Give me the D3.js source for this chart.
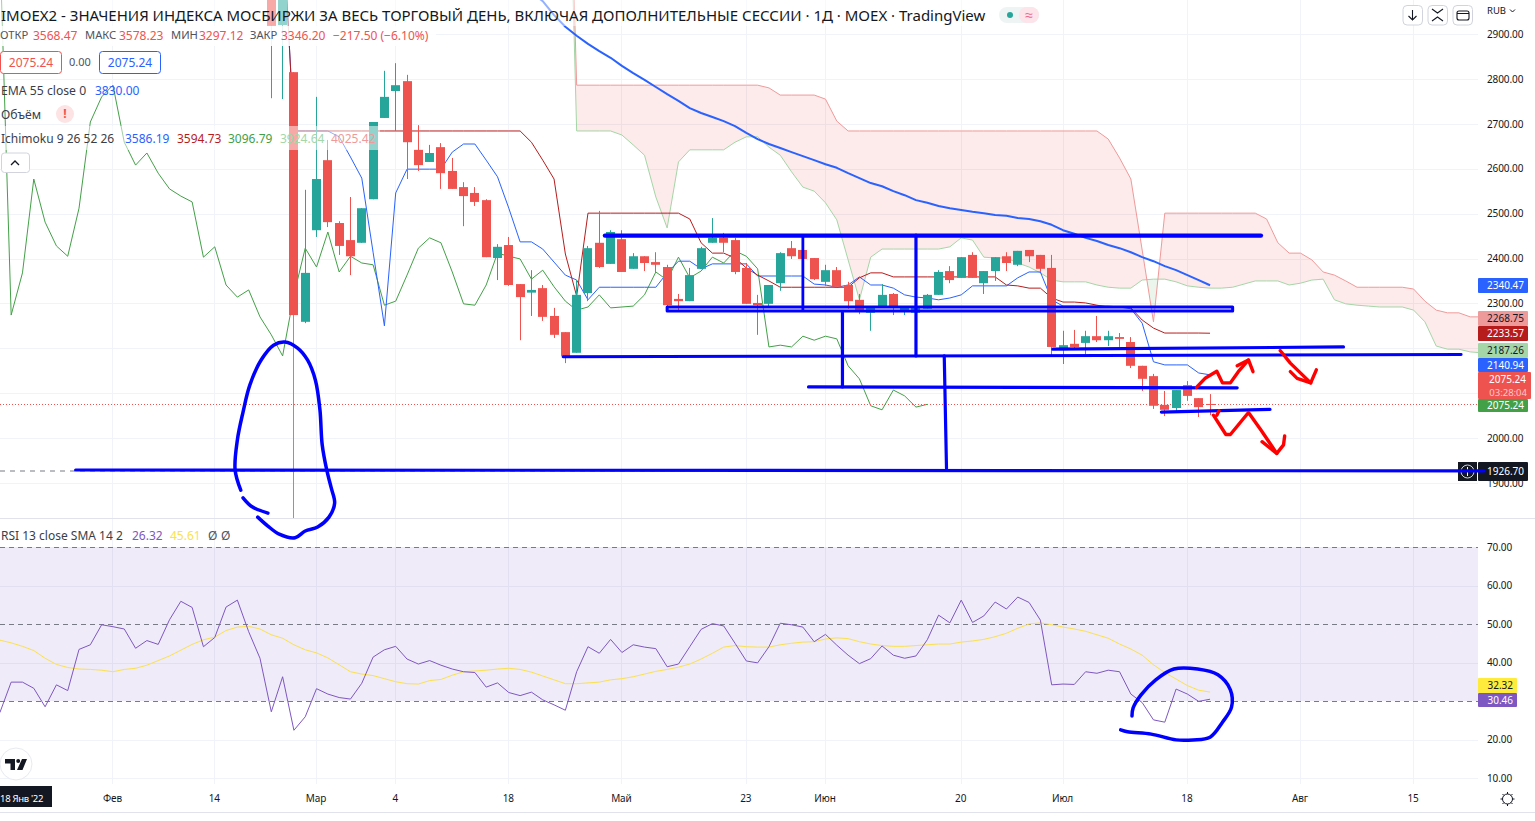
<!DOCTYPE html>
<html><head><meta charset="utf-8">
<script src="https://cdn.jsdelivr.net/npm/d3@7/dist/d3.min.js"></script>
<style>
html,body{margin:0;padding:0;background:#fff;overflow:hidden}
svg{display:block}
text{font-family:"Noto Sans",sans-serif}
</style></head><body>
<svg id="c" width="1535" height="821"></svg>
<script>
// ---------- data (bar index 0 = first candle shown, negative = earlier sessions) ----------
const candleOpen=[3070,2920,2815,2259,2463,2619,2479,2441,2435,2532,2713,2773,2795,2642,2615,2648,2595,2559,2546,2530,2401,2430,2343,2324,2334,2272,2236,2190,2323,2435,2388,2443,2377,2405,2392,2381,2310,2305,2377,2435,2446,2441,2379,2301,2299,2345,2423,2419,2401,2348,2374,2341,2308,2279,2292,2321,2285,2279,2288,2319,2372,2357,2408,2345,2372,2405,2386,2419,2408,2379,2196,2210,2212,2227,2218,2225,2214,2161,2138,2074,2067,2118,2089,2076];
const candleHigh=[3100,3150,2815,2553,2760,2664,2483,2537,2512,2704,2818,2835,2809,2697,2653,2657,2624,2570,2559,2532,2432,2448,2343,2374,2341,2290,2236,2352,2428,2506,2463,2463,2412,2405,2414,2386,2321,2379,2426,2490,2457,2446,2390,2319,2341,2414,2439,2419,2401,2386,2381,2348,2321,2292,2343,2323,2292,2294,2321,2374,2383,2403,2414,2372,2403,2414,2417,2419,2408,2408,2239,2241,2239,2272,2239,2234,2225,2161,2143,2105,2107,2127,2089,2098];
const candleLow=[2757,2755,1822,2256,2448,2470,2408,2363,2435,2532,2713,2684,2577,2595,2615,2555,2555,2472,2517,2403,2352,2339,2218,2272,2261,2223,2167,2190,2305,2379,2388,2370,2377,2372,2368,2294,2285,2305,2377,2435,2414,2365,2299,2230,2294,2328,2399,2399,2352,2339,2337,2288,2276,2239,2292,2274,2274,2274,2288,2319,2345,2357,2357,2321,2350,2372,2383,2392,2370,2185,2165,2201,2187,2214,2205,2203,2156,2105,2065,2049,2060,2083,2047,2051];
const candleClose=[2918,3100,2274,2368,2577,2481,2428,2405,2512,2704,2760,2786,2659,2608,2635,2590,2555,2539,2526,2403,2426,2341,2314,2330,2270,2230,2183,2319,2423,2381,2459,2370,2405,2390,2386,2296,2305,2363,2423,2446,2435,2370,2299,2296,2341,2412,2405,2399,2354,2374,2337,2305,2285,2292,2319,2290,2292,2294,2319,2370,2352,2403,2357,2372,2403,2390,2417,2405,2377,2203,2207,2203,2227,2218,2227,2221,2161,2132,2072,2063,2107,2094,2069,2075.24];

// tenkan and kijun start at bar 1
const tenkan=[3154,2684,2684,2684,2684,2671,2626,2579,2414,2250,2546,2599,2599,2599,2599,2637,2655,2655,2619,2582,2512,2437,2437,2421,2392,2363,2352,2308,2336,2336,2336,2336,2336,2336,2368,2394,2394,2377,2388,2388,2388,2388,2361,2361,2361,2361,2361,2343,2341,2336,2341,2359,2341,2341,2334,2319,2314,2312,2308,2312,2319,2339,2339,2339,2339,2357,2370,2370,2308,2294,2294,2294,2294,2294,2292,2288,2256,2170,2163,2163,2163,2145,2140.94];
const kijun=[3154,2684,2684,2684,2684,2684,2684,2684,2684,2684,2684,2684,2684,2684,2684,2684,2684,2684,2684,2684,2684,2684,2659,2619,2577,2410,2316,2501,2501,2501,2501,2501,2501,2501,2501,2501,2488,2435,2412,2412,2401,2379,2363,2350,2336,2336,2336,2336,2336,2336,2336,2357,2368,2368,2359,2359,2359,2359,2359,2359,2359,2359,2359,2359,2341,2339,2334,2334,2312,2303,2303,2301,2296,2292,2292,2290,2263,2245,2234,2234,2234,2234,2233.57];
// lagging span starts at bar -24
const chikou=[3100,2274,2368,2577,2481,2428,2405,2512,2704,2760,2786,2659,2608,2635,2590,2555,2539,2526,2403,2426,2341,2314,2330,2270,2230,2183,2319,2423,2381,2459,2370,2405,2390,2386,2296,2305,2363,2423,2446,2435,2370,2299,2296,2341,2412,2405,2399,2354,2374,2337,2305,2285,2292,2319,2290,2292,2294,2319,2370,2352,2403,2357,2372,2403,2390,2417,2405,2377,2203,2207,2203,2227,2218,2227,2221,2161,2132,2072,2063,2107,2094,2069,2075.24];
// leading spans start at bar 26 and run 25 bars past the last candle
const spanA=[3622,2684,2684,2684,2684,2675,2653,2630,2537,2468,2615,2642,2642,2642,2642,2659,2671,2671,2648,2630,2593,2559,2550,2524,2486,2397,2308,2403,2421,2421,2421,2421,2421,2421,2426,2446,2441,2403,2401,2401,2390,2381,2368,2352,2348,2348,2348,2341,2336,2334,2334,2352,2354,2354,2348,2339,2336,2334,2334,2336,2343,2350,2350,2350,2341,2345,2352,2354,2308,2299,2296,2294,2292,2292,2292,2285,2259,2205,2198,2198,2192,2190,2187.26];
const spanB=[3688,2786,2786,2786,2786,2786,2786,2786,2786,2786,2786,2786,2786,2786,2786,2786,2786,2786,2780,2764,2764,2764,2764,2755,2706,2684,2684,2684,2684,2684,2684,2684,2684,2684,2684,2684,2684,2684,2684,2684,2684,2684,2684,2684,2684,2684,2684,2684,2666,2624,2577,2419,2259,2501,2501,2501,2501,2501,2501,2501,2501,2501,2488,2435,2412,2412,2397,2370,2363,2350,2336,2336,2336,2336,2336,2332,2305,2285,2279,2279,2270,2270,2268.75];
// EMA 55 starts at bar 23
const ema55=[2993,2973,2942,2916,2896,2878,2862,2847,2829,2813,2798,2782,2766,2751,2735,2724,2715,2706,2695,2680,2666,2655,2646,2637,2628,2619,2610,2602,2590,2579,2568,2561,2550,2541,2530,2524,2517,2512,2508,2504,2501,2497,2495,2490,2488,2483,2475,2463,2455,2446,2439,2430,2423,2414,2403,2394,2383,2374,2363,2352,2340.47];

// RSI and its SMA start at bar -24
const rsi=[27.0,34.9,34.9,33.3,28.5,34.2,32.7,43.4,44.6,49.8,49.3,48.7,43.7,45.7,44.7,51.1,55.9,54.3,44.1,46.5,54.4,56.2,48.0,41.1,27.2,36.3,22.4,25.9,33.2,31.8,30.9,30.5,34.6,41.4,43.3,44.2,40.9,39.6,40.5,39.3,38.3,37.6,37.4,33.6,34.7,32.2,31.4,32.3,30.3,29.0,27.6,37.6,44.1,42.4,46.0,42.6,44.6,44.0,43.6,38.9,39.6,44.1,48.6,50.1,49.5,45.0,40.4,39.9,44.1,50.2,49.8,49.2,45.4,47.3,44.5,41.9,39.7,41.0,44.3,41.9,41.1,41.7,45.9,52.3,50.3,56.2,50.4,52.1,55.7,53.9,57.0,55.6,51.0,34.2,34.4,34.3,37.6,37.2,38.0,37.6,31.8,29.6,25.1,24.5,33.1,31.8,29.9,30.46];
const rsiMa=[45.8,45.1,44.2,43.1,41.1,39.5,38.7,38.3,38.2,38.0,37.6,38.2,38.5,39.3,40.5,41.7,43.2,44.7,45.9,46.6,48.3,49.2,49.4,48.7,47.2,46.3,44.6,43.3,42.5,41.2,39.4,37.6,37.0,36.6,35.8,35.0,34.5,34.4,35.3,35.6,36.7,37.6,37.8,38.0,38.3,38.5,38.2,37.5,36.5,35.5,34.5,34.5,34.7,34.9,35.5,35.8,36.3,37.0,37.7,38.2,38.8,39.6,40.9,42.4,44.0,44.4,44.1,44.0,44.0,44.6,45.0,45.3,45.4,46.1,46.4,46.2,45.4,44.8,44.4,44.2,44.2,44.4,44.6,44.8,44.8,45.3,45.6,46.0,46.7,47.6,48.9,50.0,50.3,49.8,49.2,48.7,48.1,47.2,46.3,44.8,43.5,41.9,39.4,37.4,35.7,34.0,32.8,32.32];

const priceTicks=[2900,2800,2700,2600,2500,2400,2300,2200,2100,2000,1900];
const rsiTicks=[70,60,50,40,30,20,10];
const rsiGuides=[70,50,30];
const dayTicks=[-14,-5,4,11,21,31,42,49,61,70,81,91,101];
const dayLabels=["Фев","14","Мар","4","18","Май","23","Июн","20","Июл","18","Авг","15"];
const lastPrice=2075.24, alertPrice=1926.70;

// hand-drawn trend lines, [bar, price]
const trendLines=[
 [[29.5,2451],[87.5,2451]],
 [[25.8,2181],[105.2,2186]],
 [[69.1,2198],[94.8,2203]],
 [[47.5,2114],[85.4,2112]],
 [[78.7,2058],[88.3,2064]],
 [[-17.3,1929],[107.2,1927]],
 [[47.0,2448],[47.0,2285]],
 [[57.0,2452],[57.0,2183]],
 [[50.5,2279],[50.5,2114]],
 [[59.5,2183],[59.7,1933]]
];
const trendWidths=[4.4,3,3.2,3.2,3.2,3.2,2.8,3.2,3.2,3.2];
const channelBox=[[35,2292],[85,2292],[85,2283],[35,2283],[35,2292]];
// freehand ink, [bar, price]
const inkBlue=[
 [[-1.2,1824],[-0.3,1804],[0.7,1786],[2.1,1778],[3.0,1793],[4.1,1802],[5.1,1824],[5.6,1855],[5.3,1889],[4.9,1929],[4.5,1985],[4.3,2063],[3.9,2129],[3.2,2174],[2.3,2201],[1.2,2214],[0.2,2207],[-0.9,2174],[-1.9,2118],[-2.5,2058],[-3.0,1996],[-3.2,1929],[-2.7,1884]],
 [[-2.5,1867],[-1.7,1847],[-0.3,1833]]
];
const inkRed=[
 [[81.8,2113],[82.6,2134],[83.6,2149],[84.1,2123],[84.8,2123],[85.5,2148],[86.4,2174]],
 [[85.4,2161],[86.4,2174],[86.8,2148]],
 [[89.2,2195],[90.1,2167],[91.9,2123],[92.4,2152]],
 [[90.1,2148],[90.7,2133],[91.9,2123]],
 [[83.3,2051],[84.4,2008],[84.8,2008],[86.4,2057],[87.5,2018],[88.9,1966]],
 [[87.6,1992],[88.9,1966],[89.5,1985],[89.6,2005]],
 [[83.8,2061],[83.6,2051]]
];
// freehand ink on the oscillator, [bar, RSI]
const inkRsi=[[76.1,26.1],[76.2,28.2],[76.9,31.6],[78.2,35.5],[79.8,38.3],[81.9,38.3],[83.7,36.8],[84.8,32.9],[84.9,28.4],[84.1,24.5],[83.0,20.6],[81.5,19.9],[80.0,19.9],[77.8,21.4],[75.7,22.0],[75.1,22.5]];

// ---------- layout ----------
const svg=d3.select("#c");
const PR=1478, W=1535;
const x=d3.scaleLinear().domain([0,100]).range([271.3,1402.3]);
const yP=d3.scaleLinear().domain([1900,2900]).range([483,34]);
const yR=d3.scaleLinear().domain([10,70]).range([778,547]);
const UP="#26a69a", DOWN="#ef5350", BLUE="#2962ff", DARK="#131722";

const defs=svg.append("defs");
defs.append("clipPath").attr("id","pp").append("rect").attr("width",PR).attr("height",518);
defs.append("clipPath").attr("id","rp").append("rect").attr("y",519).attr("width",PR).attr("height",265);

// grid
const grid=svg.append("g");
grid.selectAll(".v").data(dayTicks).join("line").attr("x1",d=>Math.floor(x(d))+.5).attr("x2",d=>Math.floor(x(d))+.5).attr("y1",0).attr("y2",784).attr("stroke","#f0f3fa");
grid.selectAll(".h").data(priceTicks).join("line").attr("x1",0).attr("x2",PR).attr("y1",d=>Math.round(yP(d))+.5).attr("y2",d=>Math.round(yP(d))+.5).attr("stroke","#f0f3fa");
grid.selectAll(".r").data(rsiTicks.filter(d=>!rsiGuides.includes(d))).join("line").attr("x1",0).attr("x2",PR).attr("y1",d=>Math.round(yR(d))+.5).attr("y2",d=>Math.round(yR(d))+.5).attr("stroke","#f0f3fa");

// price pane
const pp=svg.append("g").attr("clip-path","url(#pp)");
const series=(vals,start)=>vals.map((v,k)=>[start+k,v]);
const lineP=d3.line().x(d=>x(d[0])).y(d=>yP(d[1]));
const A=series(spanA,26), B=series(spanB,26);
const areaBelow=d3.area().x(d=>x(d[0])).y0(600).y1(d=>yP(d[1]));
const areaAbove=d3.area().x(d=>x(d[0])).y0(-900).y1(d=>yP(d[1]));
defs.append("clipPath").attr("id","aboveA").append("path").attr("d",areaAbove(A));
defs.append("clipPath").attr("id","aboveB").append("path").attr("d",areaAbove(B));
pp.append("g").attr("clip-path","url(#aboveA)").append("path").attr("d",areaBelow(B)).attr("fill","#ef5350").attr("fill-opacity",.12);
pp.append("g").attr("clip-path","url(#aboveB)").append("path").attr("d",areaBelow(A)).attr("fill","#43a047").attr("fill-opacity",.1);
const strokeLine=(g,vals,start,color,w)=>g.append("path").attr("d",lineP(series(vals,start))).attr("fill","none").attr("stroke",color).attr("stroke-width",w).attr("stroke-linejoin","round");
strokeLine(pp,spanA,26,"#a5d6a7",1);
strokeLine(pp,spanB,26,"#ef9a9a",1);
strokeLine(pp,chikou,-24,"#43a047",1);
strokeLine(pp,tenkan,1,BLUE,1);
strokeLine(pp,kijun,1,"#b71c1c",1);
strokeLine(pp,ema55,23,BLUE,2);

// price lines
pp.append("line").attr("x1",0).attr("x2",PR).attr("y1",yP(alertPrice)).attr("y2",yP(alertPrice)).attr("stroke","#787b86").attr("stroke-dasharray","5,5");
pp.append("line").attr("x1",0).attr("x2",PR).attr("y1",Math.round(yP(lastPrice))+.5).attr("y2",Math.round(yP(lastPrice))+.5).attr("stroke",DOWN).attr("stroke-dasharray","1,2");

// candles
const cg=pp.append("g");
const idx=d3.range(candleOpen.length);
const col=i=>candleClose[i]>=candleOpen[i]?UP:DOWN;
// the long lower wick of bar 2 renders greyed in the reference
const wickCol=i=>(candleHigh[i]-candleLow[i]>900)?"#8c9a90":col(i);
cg.selectAll(".w").data(idx).join("line").attr("x1",i=>Math.floor(x(i))+.5).attr("x2",i=>Math.floor(x(i))+.5)
  .attr("y1",i=>yP(candleHigh[i])).attr("y2",i=>yP(candleLow[i])).attr("stroke",wickCol);
cg.selectAll(".b").data(idx).join("rect").attr("x",i=>Math.floor(x(i))-4).attr("width",9)
  .attr("y",i=>yP(Math.max(candleOpen[i],candleClose[i])))
  .attr("height",i=>Math.max(1,Math.abs(yP(candleOpen[i])-yP(candleClose[i])))).attr("fill",col);

// legend row veils
const veil=(xx,y,w,h,o)=>svg.append("rect").attr("x",xx).attr("y",y).attr("width",w).attr("height",h).attr("fill","#fff").attr("fill-opacity",o);
veil(0,0,990,26,.5); veil(0,26,436,20,.9); veil(0,126,380,24,.5);

// RSI pane
const rp=svg.append("g").attr("clip-path","url(#rp)");
rp.append("rect").attr("x",0).attr("width",PR).attr("y",yR(70)).attr("height",yR(30)-yR(70)).attr("fill","#7e57c2").attr("fill-opacity",.12);
rp.selectAll(".g").data(rsiGuides).join("line").attr("x1",0).attr("x2",PR).attr("y1",d=>Math.round(yR(d))+.5).attr("y2",d=>Math.round(yR(d))+.5).attr("stroke","#787b86").attr("stroke-dasharray","5,4");
const lineR=d3.line().x(d=>x(d[0])).y(d=>yR(d[1]));
rp.append("path").attr("d",lineR(series(rsiMa,-24))).attr("fill","none").attr("stroke","#fbe14f").attr("stroke-width",1);
rp.append("path").attr("d",lineR(series(rsi,-24))).attr("fill","none").attr("stroke","#7e57c2").attr("stroke-width",1);

// pane separators
svg.append("line").attr("x1",0).attr("x2",W).attr("y1",518.5).attr("y2",518.5).attr("stroke","#e0e3eb");
svg.append("line").attr("x1",0).attr("x2",W).attr("y1",812.5).attr("y2",812.5).attr("stroke","#e0e3eb");

// axes
const styleAxis=g=>{g.select(".domain").remove();g.selectAll("line").remove();g.selectAll("text").attr("fill",DARK).style("font-size","10px").style("letter-spacing","-0.1px");};
svg.append("g").attr("transform",`translate(${PR},0)`).call(d3.axisRight(yP).tickValues(priceTicks).tickSize(0).tickPadding(9).tickFormat(d3.format(".2f"))).call(styleAxis);
svg.append("g").attr("transform",`translate(${PR},0)`).call(d3.axisRight(yR).tickValues(rsiTicks.filter(d=>d!==30)).tickSize(0).tickPadding(9).tickFormat(d3.format(".2f"))).call(styleAxis);
svg.append("g").attr("transform","translate(-1,789)").call(d3.axisBottom(x).tickValues(dayTicks).tickSize(0).tickPadding(6).tickFormat((d,i)=>dayLabels[i])).call(styleAxis);

// scale tags
const tag=(y,h,w,bg,fg,txt)=>{
  svg.append("rect").attr("x",PR).attr("y",y).attr("width",w).attr("height",h).attr("fill",bg).attr("rx",1);
  svg.append("text").attr("x",PR+w-4).attr("y",y+h/2).attr("dy","0.35em").attr("text-anchor","end").attr("fill",fg).style("font-size","10px").text(txt);
};
const f2=d3.format(".2f");
tag(278,15,50,BLUE,"#fff",f2(ema55[ema55.length-1]));
tag(311,15,50,"#ef9a9a",DARK,f2(spanB[spanB.length-1]));
tag(326,15,50,"#b71c1c","#fff",f2(kijun[kijun.length-1]));
tag(343,15,50,"#a5d6a7",DARK,f2(spanA[spanA.length-1]));
tag(358,14,50,BLUE,"#fff",f2(tenkan[tenkan.length-1]));
svg.append("rect").attr("x",PR).attr("y",372).attr("width",53).attr("height",27).attr("fill",DOWN).attr("rx",1);
svg.append("text").attr("x",1526).attr("y",382.5).attr("text-anchor","end").attr("fill","#fff").style("font-size","10px").text(f2(lastPrice));
svg.append("text").attr("x",1527).attr("y",396).attr("text-anchor","end").attr("fill","#fbc9c7").style("font-size","9.5px").text("03:28:04");
tag(399,13,50,"#43a047","#fff",f2(lastPrice));
tag(462,19,50,DARK,"#fff",f2(alertPrice));
svg.append("rect").attr("x",1458).attr("y",462).attr("width",19).attr("height",19).attr("fill",DARK);
svg.append("circle").attr("cx",1467.5).attr("cy",471.5).attr("r",6.5).attr("fill","none").attr("stroke","#d1d4dc");
svg.append("path").attr("d","M1467.5,467v9M1463,471.5h9").attr("stroke","#fff");
tag(678,15,39,"#ffeb3b",DARK,f2(rsiMa[rsiMa.length-1]));
tag(693,14,39,"#7e57c2","#fff",f2(rsi[rsi.length-1]));

// date tag
svg.append("rect").attr("x",0).attr("y",786).attr("width",52).attr("height",21).attr("fill",DARK);
svg.append("text").attr("x",0).attr("y",801.5).attr("fill","#fff").style("font-size","9.5px").style("letter-spacing","-0.3px").text("18 Янв '22");

// legend text
const txt=(xx,y,s,fill,size,anchor)=>svg.append("text").attr("x",xx).attr("y",y).attr("fill",fill||DARK).style("font-size",(size||12.2)+"px").attr("text-anchor",anchor||"start").attr("dy","0.35em").text(s);
txt(1,15.5,"IMOEX2 - ЗНАЧЕНИЯ ИНДЕКСА МОСБИРЖИ ЗА ВЕСЬ ТОРГОВЫЙ ДЕНЬ, ВКЛЮЧАЯ ДОПОЛНИТЕЛЬНЫЕ СЕССИИ · 1Д · MOEX · TradingView","#131722",15);
[["ОТКР",0,1],["3568.47",33,0],["МАКС",85,1],["3578.23",119,0],["МИН",171,1],["3297.12",199,0],["ЗАКР",250,1],["3346.20",281,0],["−217.50 (−6.10%)",333,0]].forEach(d=>txt(d[1],35.5,d[0],d[2]?"#50535e":DOWN,d[2]?11.2:12));
svg.append("rect").attr("x",.5).attr("y",51.5).attr("width",61).attr("height",22).attr("rx",3).attr("fill","#fff").attr("stroke",DOWN);
svg.append("rect").attr("x",99.5).attr("y",51.5).attr("width",61).attr("height",22).attr("rx",3).attr("fill","#fff").attr("stroke",BLUE);
txt(31,62.5,"2075.24",DOWN,12,"middle"); txt(80,62,"0.00","#50535e",11,"middle"); txt(130,62.5,"2075.24",BLUE,12,"middle");
txt(1,90.5,"EMA 55 close 0","#3a3e4a"); txt(95,90.5,"3830.00",BLUE,12);
txt(1,114.5,"Объём","#3a3e4a");
svg.append("circle").attr("cx",65).attr("cy",114).attr("r",9).attr("fill","#fde3e3");
txt(65,113.5,"!",DOWN,12,"middle").style("font-weight","700");
[["Ichimoku 9 26 52 26",1,"#3a3e4a"],["3586.19",125,BLUE],["3594.73",177,"#b71c1c"],["3096.79",228,"#43a047"],["3924.64",280,"#a5d6a7"],["4025.42",331,"#ef9a9a"]].forEach(d=>txt(d[1],138.5,d[0],d[2],12));
svg.append("rect").attr("x",1.5).attr("y",153).attr("width",28).attr("height",19.5).attr("rx",3).attr("fill","#fff").attr("stroke","#d1d4dc");
svg.append("path").attr("d","M11,165l4,-4l4,4").attr("fill","none").attr("stroke",DARK).attr("stroke-width",1.3);
[["RSI 13 close SMA 14 2",1,"#3a3e4a"],["26.32",132,"#7e57c2"],["45.61",170,"#fbe14f"],["Ø",208,"#50535e"],["Ø",221,"#50535e"]].forEach(d=>txt(d[1],535.5,d[0],d[2],12));

// status pill
svg.append("rect").attr("x",999).attr("y",7).attr("width",40).attr("height",16).attr("rx",8).attr("fill","#eef3f3");
svg.append("rect").attr("x",1019).attr("y",7).attr("width",20).attr("height",16).attr("rx",8).attr("fill","#fde3ea");
svg.append("circle").attr("cx",1010).attr("cy",15).attr("r",3).attr("fill",UP);
txt(1029,15,"≈","#e8688f",14,"middle");

// top right buttons
[1403,1428,1453].forEach(b=>svg.append("rect").attr("x",b).attr("y",5.5).attr("width",19.5).attr("height",19.5).attr("rx",4).attr("fill","#fff").attr("stroke","#d1d4dc"));
svg.append("path").attr("d","M1412.5,10v10M1408.5,16l4,4l4,-4M1432,9l5.5,4l5.5,-4M1432,21l5.5,-4l5.5,4M1459,11h8a2,2 0 0 1 2,2v5a2,2 0 0 1 -2,2h-8a2,2 0 0 1 -2,-2v-5a2,2 0 0 1 2,-2zM1457,13.5h12").attr("fill","none").attr("stroke",DARK).attr("stroke-width",1.1);
txt(1487,11,"RUB",DARK,9.5); svg.append("path").attr("d","M1510,9.5l2.5,2.5l2.5,-2.5").attr("fill","none").attr("stroke",DARK);

// TradingView mark
svg.append("circle").attr("cx",16).attr("cy",764).attr("r",16).attr("fill","#fff").attr("stroke","#e8eaef").attr("stroke-width",1);
svg.append("path").attr("d","M5,759h10v11h-4.5v-6.5h-5.5zM22,759h5l-4.5,11h-5.5z").attr("fill",DARK);
svg.append("circle").attr("cx",18.2).attr("cy",761).attr("r",2).attr("fill",DARK);

// settings glyph
svg.append("circle").attr("cx",1507.5).attr("cy",799).attr("r",5).attr("fill","none").attr("stroke",DARK);
svg.append("path").attr("d","M1507.5,792v2M1507.5,804v2M1500.5,799h2M1512.5,799h2M1502.5,794l1.5,1.5M1511,802.5l1.5,1.5M1512.5,794l-1.5,1.5M1504,802.5l-1.5,1.5").attr("stroke",DARK);

// ink on top of everything
const ink=svg.append("g").attr("fill","none").attr("stroke-linecap","round").attr("stroke-linejoin","round");
ink.selectAll(".t").data(trendLines).join("path").attr("d",lineP).attr("stroke","#0000ff").attr("stroke-width",(d,i)=>trendWidths[i]);
ink.append("path").attr("d",lineP(channelBox)).attr("stroke","#0000ff").attr("stroke-width",3);
const smooth=d3.line().x(d=>x(d[0])).y(d=>yP(d[1])).curve(d3.curveCatmullRom.alpha(.5));
ink.selectAll(".b").data(inkBlue).join("path").attr("d",smooth).attr("stroke","#0000ff").attr("stroke-width",3.5);
ink.selectAll(".r").data(inkRed).join("path").attr("d",lineP).attr("stroke","#ff0000").attr("stroke-width",3.4);
ink.append("path").attr("d",d3.line().x(d=>x(d[0])).y(d=>yR(d[1])).curve(d3.curveCatmullRom.alpha(.5))(inkRsi)).attr("stroke","#0000ff").attr("stroke-width",3.5);
</script>
</body></html>
